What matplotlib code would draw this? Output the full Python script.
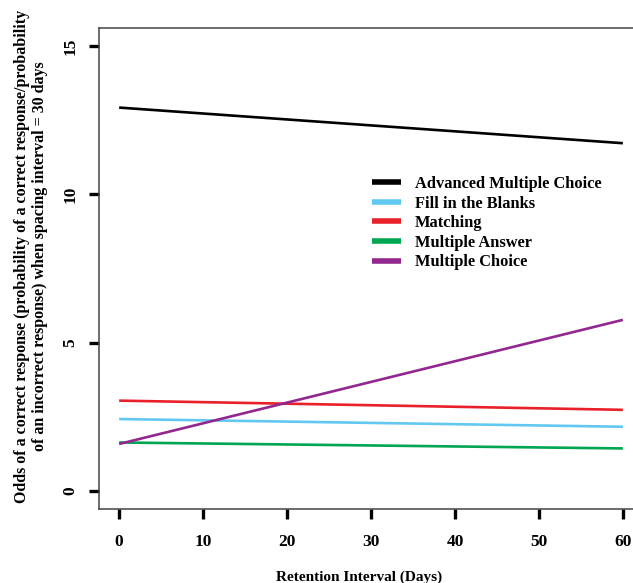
import matplotlib
matplotlib.use("Agg")
import matplotlib.pyplot as plt

plt.rcParams['font.family'] = ['Liberation Serif', 'DejaVu Serif']
plt.rcParams['font.weight'] = 'bold'

# retention interval endpoints (days)
days = [0, 60]

series = ['Advanced Multiple Choice', 'Fill in the Blanks', 'Matching',
          'Multiple Answer', 'Multiple Choice']
odds_adv_mc = [12.92, 11.72]
odds_fill = [2.43, 2.17]
odds_match = [3.05, 2.74]
odds_multi_ans = [1.64, 1.44]
odds_mc = [1.59, 5.77]

colors = ['#000000', '#62c8f2', '#e8202a', '#00a651', '#92278f']

fig = plt.figure(figsize=(6.33, 5.83), dpi=100)
W, H = 633, 583
ax = fig.add_axes([99 / W, (H - 509) / H, 544 / W, 481 / H])

for vals, name, c in zip([odds_adv_mc, odds_fill, odds_match, odds_multi_ans, odds_mc],
                         series, colors):
    ax.plot(days, vals, color=c, lw=1.9, label=name, solid_capstyle='butt')

ax.set_xlim(-2.4, 62.4)
ax.set_ylim(-0.6, 15.6)
ax.set_xticks([0, 10, 20, 30, 40, 50, 60])
ax.set_yticks([0, 5, 10, 15])
for s in ax.spines.values():
    s.set_color('#444444')
    s.set_linewidth(1.1)
ax.tick_params(axis='both', direction='out', length=7, width=2.4, color='black',
               labelsize=12.5)
ax.tick_params(axis='x', pad=11)
ax.tick_params(axis='y', pad=8)
for t in ax.get_yticklabels():
    t.set_rotation(90)
    t.set_va('center')
for t in ax.get_xticklabels() + ax.get_yticklabels():
    t.set_fontweight('bold')

fig.text(359 / W, 1 - 577 / H, 'Retention Interval (Days)', ha='center', va='center',
         fontsize=11, fontweight='bold')
fig.text(31 / W, 1 - 256 / H,
         'Odds of a correct response (probability of a correct response/probability\n'
         'of an incorrect response) when spacing interval = 30 days',
         ha='center', va='center', rotation=90, fontsize=11.5, fontweight='bold',
         linespacing=1.12)

fig.legend(loc='upper left', bbox_to_anchor=(372 / W, 1 - 176 / H), frameon=False,
           handlelength=1.75, handletextpad=0.85, labelspacing=0.22,
           borderpad=0, borderaxespad=0, prop={'weight': 'bold', 'size': 11.8})
for line in fig.legends[0].get_lines():
    line.set_linewidth(4)

fig.savefig('out.png', dpi=100)
